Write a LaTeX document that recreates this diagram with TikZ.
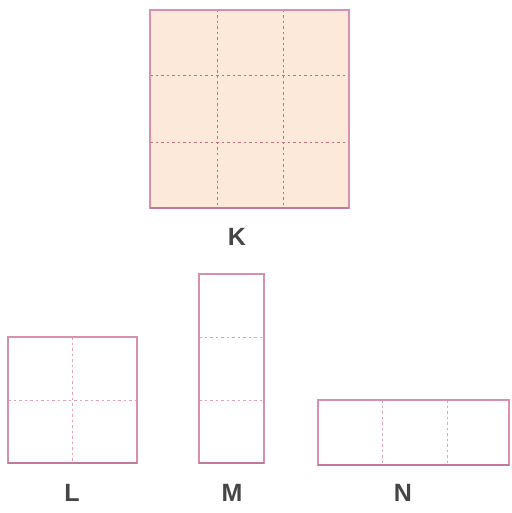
\documentclass[tikz,border=0pt]{standalone}
\usepackage{fontspec}
\setmainfont{Liberation Sans}
\definecolor{peach}{HTML}{FCE9D9}
\definecolor{edgepink}{HTML}{D890B0}
\definecolor{edgedark}{HTML}{C27A9C}
\definecolor{gridred}{HTML}{C87078}
\definecolor{gridpink}{HTML}{E6A0B4}
\definecolor{labelgrey}{HTML}{454545}
\tikzset{
  sheet/.style={draw=edgepink, line width=1.2pt},
  fold/.style={draw=gridred, line width=1pt, dash pattern=on 2.5pt off 3pt},
  lightfold/.style={draw=gridpink, line width=0.8pt, dash pattern=on 2.5pt off 3pt},
  letter/.style={font=\fontsize{25}{25}\selectfont\bfseries, text=labelgrey, inner sep=0pt}
}
\begin{document}
\begin{tikzpicture}[x=1pt,y=-1pt]
\useasboundingbox (0,0) rectangle (511,513);
% K
\fill[peach] (150,10) rectangle (349,208);
\draw[fold] (217,10) -- (217,208) (283,10) -- (283,208);
\draw[fold] (150,76) -- (349,76) (150,143) -- (349,143);
\draw[sheet] (150,10) rectangle (349,208);
\draw[edgedark, line width=2pt] (150,207.5) -- (349,207.5);
\node[letter] (k) at (237,237) {K};
% L
\draw[lightfold] (8,400) -- (137,400) (72,337) -- (72,463);
\draw[sheet] (8,337) rectangle (137,463);
\draw[edgedark, line width=1.6pt] (8,463) -- (137,463);
\node[letter] (l) at (72,493) {L};
% M
\draw[lightfold] (199,337) -- (264,337) (199,400) -- (264,400);
\draw[sheet] (199,274) rectangle (264,463);
\draw[edgedark, line width=1.6pt] (199,463) -- (264,463);
\node[letter] (m) at (232,493) {M};
% N
\draw[lightfold] (382,400) -- (382,465) (447,400) -- (447,465);
\draw[sheet] (318,400) rectangle (509,465);
\draw[edgedark, line width=1.6pt] (318,465) -- (509,465);
\node[letter] (n) at (403,493) {N};
\end{tikzpicture}
\end{document}
